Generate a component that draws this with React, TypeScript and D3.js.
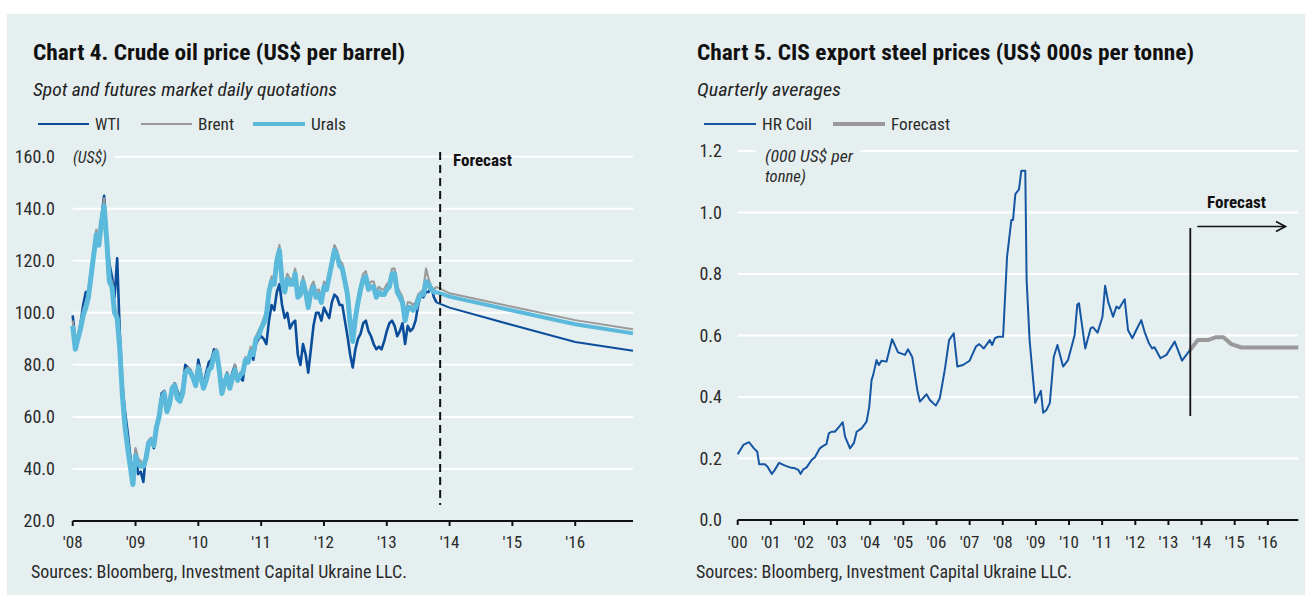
import React from "react";
import * as d3 from "d3";

// ---------- Chart 4: crude oil (semi-monthly observations from Jan 2008 to Oct 2013) ----------
const oilStart = 2008;
const wti = [
  99, 89, 90, 96, 103, 108, 108, 116, 124, 130, 128, 137, 145, 130, 119, 114, 106, 121, 92, 72, 62, 54, 45, 34,
  47, 38, 39, 35, 46, 50, 51, 48, 57, 61, 69, 70, 62, 65, 71, 73, 70, 67, 71, 80, 79, 78, 75, 73,
  82, 77, 72, 77, 81, 82, 86, 85, 78, 70, 74, 77, 72, 77, 80, 74, 75, 74, 82, 81, 85, 82, 88, 90,
  91, 90, 88, 97, 103, 101, 108, 111, 103, 98, 100, 94, 96, 97, 84, 80, 88, 84, 77, 86, 95, 100, 100, 97,
  102, 100, 98, 104, 107, 106, 103, 103, 97, 91, 84, 79, 86, 90, 92, 96, 97, 93, 91, 88, 86, 87, 86, 89,
  93, 96, 97, 95, 91, 93, 96, 88, 95, 93, 94, 97, 103, 107, 106, 108, 108, 110, 106, 104,
];
const brent = [
  97, 88, 92, 96, 101, 104, 108, 116, 124, 132, 128, 137, 144, 130, 114, 112, 102, 100, 88, 70, 58, 50, 43, 37,
  48, 44, 43, 42, 45, 51, 52, 50, 57, 61, 68, 70, 63, 66, 72, 73, 68, 67, 70, 78, 79, 78, 76, 73,
  80, 77, 72, 75, 79, 80, 85, 86, 79, 71, 74, 77, 72, 76, 80, 75, 77, 78, 83, 82, 87, 85, 91, 93,
  95, 98, 101, 110, 114, 113, 122, 126, 114, 110, 115, 113, 113, 117, 108, 109, 114, 110, 104, 110, 112, 108, 109, 106,
  112, 111, 116, 121, 126, 124, 120, 119, 114, 109, 98, 91, 100, 106, 111, 115, 116, 111, 112, 112, 108, 110, 109, 109,
  111, 112, 117, 117, 110, 108, 106, 99, 104, 104, 103, 104, 107, 108, 109, 117, 113, 110, 109, 110,
];
const urals = [
  95, 86, 90, 94, 99, 102, 106, 114, 122, 130, 126, 135, 141, 128, 112, 110, 100, 98, 86, 68, 56, 48, 41, 34,
  45, 42, 41, 41, 44, 50, 51, 49, 56, 60, 67, 69, 62, 65, 71, 72, 67, 66, 69, 77, 78, 77, 75, 72,
  79, 75, 71, 74, 78, 79, 84, 85, 78, 69, 73, 76, 71, 75, 78, 74, 76, 77, 82, 81, 85, 84, 90, 91,
  94, 96, 99, 108, 112, 111, 120, 124, 112, 108, 113, 111, 111, 115, 106, 107, 112, 108, 102, 108, 110, 106, 107, 104,
  110, 109, 114, 119, 124, 122, 118, 117, 112, 107, 96, 89, 98, 104, 109, 113, 114, 109, 110, 110, 106, 108, 107, 107,
  109, 110, 115, 115, 108, 106, 104, 97, 102, 102, 101, 102, 105, 107, 107, 112, 111, 109, 108, 108,
];
const oilForecastYears = [2013.79, 2014, 2015, 2016, 2016.92];
const wtiForecast = [104, 102, 95.3, 88.8, 85.4];
const brentForecast = [110, 107.5, 102.3, 97.2, 93.7];
const uralsForecast = [108, 106.2, 100.9, 95.6, 92.1];
const oilForecastStart = 2013.85;
const oilYTicks = [20, 40, 60, 80, 100, 120, 140, 160];
const oilYearTicks = [2008, 2009, 2010, 2011, 2012, 2013, 2014, 2015, 2016];

// ---------- Chart 5: CIS export steel prices ----------
const hrYears = [
  2000.0, 2000.17, 2000.34, 2000.49, 2000.59, 2000.65, 2000.82, 2000.9, 2001.03, 2001.12, 2001.25, 2001.43,
  2001.58, 2001.73, 2001.83, 2001.9, 2001.98, 2002.08, 2002.23, 2002.33, 2002.48, 2002.58, 2002.68, 2002.75,
  2002.83, 2002.93, 2003.06, 2003.17, 2003.24, 2003.39, 2003.51, 2003.59, 2003.74, 2003.89, 2003.97, 2004.04,
  2004.09, 2004.19, 2004.26, 2004.34, 2004.49, 2004.66, 2004.84, 2005.05, 2005.14, 2005.27, 2005.42, 2005.5,
  2005.7, 2005.8, 2005.98, 2006.1, 2006.25, 2006.38, 2006.52, 2006.63, 2006.8, 2007.0, 2007.19, 2007.29,
  2007.43, 2007.61, 2007.68, 2007.76, 2007.86, 2008.01, 2008.13, 2008.26, 2008.31, 2008.38, 2008.49, 2008.56,
  2008.68, 2008.72, 2008.81, 2008.98, 2009.15, 2009.22, 2009.32, 2009.42, 2009.54, 2009.65, 2009.82, 2009.97,
  2010.17, 2010.25, 2010.3, 2010.49, 2010.65, 2010.72, 2010.86, 2011.01, 2011.09, 2011.18, 2011.33, 2011.43,
  2011.51, 2011.68, 2011.78, 2011.91, 2012.03, 2012.18, 2012.28, 2012.41, 2012.51, 2012.58, 2012.76, 2012.94,
  2013.19, 2013.41, 2013.64,
];
const hrCoil = [
  0.214, 0.244, 0.253, 0.233, 0.222, 0.181, 0.181, 0.173, 0.15, 0.163, 0.186, 0.177,
  0.171, 0.168, 0.163, 0.15, 0.165, 0.171, 0.195, 0.204, 0.233, 0.241, 0.247, 0.282,
  0.287, 0.287, 0.303, 0.318, 0.271, 0.233, 0.251, 0.287, 0.298, 0.32, 0.368, 0.455,
  0.472, 0.52, 0.504, 0.518, 0.515, 0.588, 0.545, 0.537, 0.555, 0.529, 0.423, 0.385,
  0.409, 0.39, 0.372, 0.396, 0.488, 0.585, 0.607, 0.499, 0.504, 0.518, 0.564, 0.572,
  0.558, 0.585, 0.569, 0.591, 0.596, 0.596, 0.856, 0.976, 0.976, 1.06, 1.075, 1.136,
  1.136, 0.78, 0.585, 0.381, 0.42, 0.349, 0.358, 0.38, 0.531, 0.569, 0.499, 0.52,
  0.602, 0.701, 0.705, 0.558, 0.623, 0.627, 0.609, 0.661, 0.762, 0.71, 0.661, 0.694,
  0.688, 0.718, 0.618, 0.591, 0.618, 0.65, 0.612, 0.575, 0.558, 0.562, 0.526, 0.537,
  0.58, 0.518, 0.551,
];
const steelForecastYears = [2013.64, 2013.89, 2014.19, 2014.42, 2014.66, 2014.9, 2015.2, 2016.92];
const steelForecast = [0.551, 0.585, 0.585, 0.594, 0.594, 0.572, 0.561, 0.561];
const steelForecastStart = 2013.66;
const steelYTicks = [0, 0.2, 0.4, 0.6, 0.8, 1.0, 1.2];
const steelYearTicks = d3.range(2000, 2017);

// ---------- styles ----------
const NARROW = "'Liberation Sans Narrow', 'Arial Narrow', 'Roboto Condensed', 'Liberation Sans', sans-serif";
const BG = "#e6eff0";
const C_WTI = "#0a4d9b";
const C_BRENT = "#9a9a9a";
const C_URALS = "#5bbadb";
const C_HR = "#1556a3";
const C_FC = "#999999";
const TXT = "#2b2b2b";

type TProps = {
  x: number; y: number; children: React.ReactNode; size?: number; weight?: any; italic?: boolean;
  anchor?: string; len?: number; fill?: string;
};
const T = ({ x, y, children, size = 17, weight = "normal", italic = false, anchor = "start", len, fill = TXT }: TProps) => (
  <text
    x={x}
    y={y}
    fontFamily={NARROW}
    fontSize={size}
    fontWeight={weight}
    fontStyle={italic ? "italic" : "normal"}
    textAnchor={anchor as any}
    fill={fill}
    {...(len ? { textLength: len, lengthAdjust: "spacingAndGlyphs" } : {})}
  >
    {children}
  </text>
);

const yearLabel = (y: number) => "'" + String(y % 100).padStart(2, "0");

function OilChart() {
  const x = d3.scaleLinear().domain([2008, 2016.92]).range([72.7, 633]);
  const y = d3.scaleLinear().domain([20, 160]).range([521, 156.7]);
  const dates = wti.map((_, i) => oilStart + i / 24);
  const line = d3
    .line<number>()
    .x((_, i) => x(dates[i]))
    .y((d) => y(d));
  const fline = d3
    .line<number>()
    .x((_, i) => x(oilForecastYears[i]))
    .y((d) => y(d));
  const [x0, x1] = x.range();
  return (
    <g>
      <T x={33} y={60} size={22} weight="bold" len={372} fill="#111">Chart 4. Crude oil price (US$ per barrel)</T>
      <T x={33} y={96} size={19} italic len={304} fill="#222">Spot and futures market daily quotations</T>
      {/* legend */}
      <line x1={38} x2={89} y1={124} y2={124} stroke={C_WTI} strokeWidth={2} />
      <T x={95} y={130} size={17} len={25}>WTI</T>
      <line x1={141} x2={192} y1={124} y2={124} stroke={C_BRENT} strokeWidth={2} />
      <T x={198} y={130} size={17} len={36}>Brent</T>
      <line x1={253} x2={305} y1={124} y2={124} stroke={C_URALS} strokeWidth={4} />
      <T x={311} y={130} size={17} len={35}>Urals</T>
      {/* grid */}
      {oilYTicks.filter((t) => t > 20).map((t) => (
        <line key={t} x1={t === 160 ? 115 : x0} x2={x1} y1={y(t)} y2={y(t)} stroke="#fff" strokeWidth={2} />
      ))}
      {oilYTicks.map((t) => (
        <T key={t} x={55} y={y(t) + 6} size={18} anchor="end">{t.toFixed(1)}</T>
      ))}
      <T x={73} y={163} size={16} italic len={34}>(US$)</T>
      {/* series */}
      <path d={line(wti) || ""} fill="none" stroke={C_WTI} strokeWidth={2.6} strokeLinejoin="round" />
      <path d={line(brent) || ""} fill="none" stroke={C_BRENT} strokeWidth={2.2} strokeLinejoin="round" />
      <path d={line(urals) || ""} fill="none" stroke={C_URALS} strokeWidth={5} strokeLinejoin="round" />
      <path d={fline(brentForecast) || ""} fill="none" stroke={C_BRENT} strokeWidth={2} />
      <path d={fline(uralsForecast) || ""} fill="none" stroke={C_URALS} strokeWidth={4} />
      <path d={fline(wtiForecast) || ""} fill="none" stroke={C_WTI} strokeWidth={2} />
      {/* forecast marker */}
      <line x1={x(oilForecastStart)} x2={x(oilForecastStart)} y1={152} y2={505} stroke="#111" strokeWidth={2} strokeDasharray="8,5" />
      <T x={453} y={166} size={17} weight="bold" len={59} fill="#111">Forecast</T>
      {/* axis */}
      <line x1={x0} x2={x1} y1={521} y2={521} stroke="#111" strokeWidth={2} />
      {oilYearTicks.map((t) => (
        <g key={t}>
          <line x1={x(t)} x2={x(t)} y1={521} y2={526} stroke="#111" strokeWidth={2} />
          <T x={x(t)} y={548} size={17} anchor="middle">{yearLabel(t)}</T>
        </g>
      ))}
      <T x={31} y={578} size={18} len={376}>Sources: Bloomberg, Investment Capital Ukraine LLC.</T>
    </g>
  );
}

function SteelChart() {
  const x = d3.scaleLinear().domain([2000, 2016.92]).range([737.7, 1298.3]);
  const y = d3.scaleLinear().domain([0, 1.2]).range([520, 151]);
  const line = d3
    .line<number>()
    .x((_, i) => x(hrYears[i]))
    .y((d) => y(d));
  const fline = d3
    .line<number>()
    .x((_, i) => x(steelForecastYears[i]))
    .y((d) => y(d));
  const [x0, x1] = x.range();
  const fx = x(steelForecastStart);
  return (
    <g>
      <T x={697} y={60} size={22} weight="bold" len={497} fill="#111">Chart 5. CIS export steel prices (US$ 000s per tonne)</T>
      <T x={697} y={96} size={19} italic len={144} fill="#222">Quarterly averages</T>
      <line x1={704} x2={756} y1={124} y2={124} stroke={C_HR} strokeWidth={2} />
      <T x={762} y={130} size={17} len={50}>HR Coil</T>
      <line x1={833} x2={885} y1={124} y2={124} stroke={C_FC} strokeWidth={4} />
      <T x={891} y={130} size={17} len={59}>Forecast</T>
      {steelYTicks.filter((t) => t > 0).map((t) =>
        t === 1.2 ? (
          <g key={t}>
            <line x1={x0} x2={756} y1={y(t)} y2={y(t)} stroke="#fff" strokeWidth={2} />
            <line x1={860} x2={x1} y1={y(t)} y2={y(t)} stroke="#fff" strokeWidth={2} />
          </g>
        ) : (
          <line key={t} x1={x0} x2={x1} y1={y(t)} y2={y(t)} stroke="#fff" strokeWidth={2} />
        )
      )}
      {steelYTicks.map((t) => (
        <T key={t} x={722} y={y(t) + 6} size={18} anchor="end">{t.toFixed(1)}</T>
      ))}
      <T x={765} y={162} size={16} italic len={88}>(000 US$ per</T>
      <T x={765} y={182} size={16} italic len={41}>tonne)</T>
      <path d={line(hrCoil) || ""} fill="none" stroke={C_HR} strokeWidth={2} strokeLinejoin="round" />
      <path d={fline(steelForecast) || ""} fill="none" stroke={C_FC} strokeWidth={4} strokeLinejoin="round" />
      <line x1={fx} x2={fx} y1={228} y2={416} stroke="#111" strokeWidth={1.8} />
      <line x1={fx + 7} x2={1285} y1={226.5} y2={226.5} stroke="#111" strokeWidth={1.6} />
      <path d="M1276,221.5 L1285.5,226.5 L1276,231.5" fill="none" stroke="#111" strokeWidth={1.6} />
      <T x={1207} y={208} size={17} weight="bold" len={59} fill="#111">Forecast</T>
      <line x1={x0} x2={x1} y1={520} y2={520} stroke="#111" strokeWidth={2} />
      {steelYearTicks.map((t) => (
        <g key={t}>
          <line x1={x(t)} x2={x(t)} y1={520} y2={525} stroke="#111" strokeWidth={2} />
          <T x={x(t)} y={548} size={17} anchor="middle">{yearLabel(t)}</T>
        </g>
      ))}
      <T x={696} y={578} size={18} len={376}>Sources: Bloomberg, Investment Capital Ukraine LLC.</T>
    </g>
  );
}

export default function App() {
  return (
    <svg width={1310} height={595} style={{ position: "absolute", left: 0, top: 0 }}>
      <rect x={0} y={0} width={1310} height={595} fill="#fff" />
      <rect x={7} y={14} width={1298} height={581} fill={BG} />
      <OilChart />
      <SteelChart />
    </svg>
  );
}
